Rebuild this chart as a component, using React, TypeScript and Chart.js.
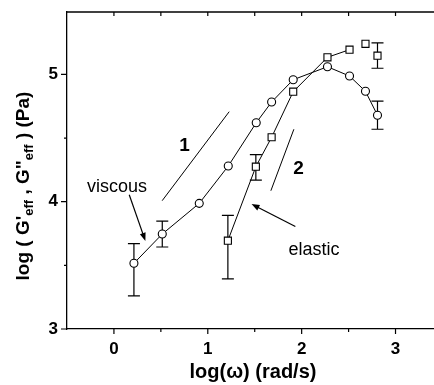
import React, { useEffect, useRef } from "react";
import { Chart, registerables } from "chart.js";
Chart.register(...registerables);

const FONT = "'Liberation Sans', Arial, sans-serif";

// Viscous (G''eff) – circles
const viscousX = [0.213, 0.515, 0.909, 1.218, 1.516, 1.68, 1.91, 2.275, 2.51, 2.68, 2.808];
const viscousY = [3.516, 3.746, 3.987, 4.28, 4.62, 4.783, 4.958, 5.06, 4.987, 4.867, 4.679];
const viscousErrLow = [3.26, 3.644, null, null, null, null, null, null, null, null, 4.569];
const viscousErrHigh = [3.67, 3.848, null, null, null, null, null, null, null, null, 4.79];

// Elastic (G'eff) – squares
const elasticX = [1.214, 1.512, 1.68, 1.91, 2.275, 2.51, 2.68, 2.808];
const elasticY = [3.694, 4.275, 4.506, 4.864, 5.134, 5.194, 5.24, 5.147];
const elasticErrLow = [3.393, 4.17, null, null, null, null, null, 5.048];
const elasticErrHigh = [3.893, 4.369, null, null, null, null, null, 5.247];
const elasticLastConnected = 5;

// Slope guide lines
const slope1X = [0.514, 1.228];
const slope1Y = [4.008, 4.707];
const slope2X = [1.672, 1.917];
const slope2Y = [4.086, 4.569];

// Ticks
const xTicks = [0, 1, 2, 3];
const xMinorTicks = [0.5, 1.5, 2.5];
const yTicks = [3, 4, 5];
const yMinorTicks = [3.5, 4.5];

// Annotations (data coordinates)
const labelTexts = ["1", "2", "viscous", "elastic"];
const labelX = [0.751, 1.967, 0.032, 2.132];
const labelY = [4.402, 4.219, 4.077, 3.582];
const labelBold = [true, true, false, false];
const arrowFromX = [0.163, 1.933];
const arrowFromY = [4.054, 3.805];
const arrowToX = [0.335, 1.466];
const arrowToY = [3.692, 3.981];

const toXY = (xs: number[], ys: number[]) => xs.map((x, i) => ({ x, y: ys[i] }));

const decorPlugin = {
  id: "decor",
  beforeDatasetsDraw(chart: any) {
    const ctx = chart.ctx;
    const xs = chart.scales.x;
    const ys = chart.scales.y;
    ctx.save();
    ctx.strokeStyle = "#000";
    ctx.lineWidth = 1.2;
    const bars = (X: number[], lo: (number | null)[], hi: (number | null)[]) => {
      X.forEach((x, i) => {
        const l = lo[i];
        const h = hi[i];
        if (l == null || h == null) return;
        const px = xs.getPixelForValue(x);
        const pl = ys.getPixelForValue(l);
        const ph = ys.getPixelForValue(h);
        ctx.beginPath();
        ctx.moveTo(px, pl);
        ctx.lineTo(px, ph);
        ctx.moveTo(px - 6, pl);
        ctx.lineTo(px + 6, pl);
        ctx.moveTo(px - 6, ph);
        ctx.lineTo(px + 6, ph);
        ctx.stroke();
      });
    };
    bars(viscousX, viscousErrLow, viscousErrHigh);
    bars(elasticX, elasticErrLow, elasticErrHigh);
    ctx.restore();
  },
  afterDraw(chart: any) {
    const ctx = chart.ctx;
    const xs = chart.scales.x;
    const ys = chart.scales.y;
    const { left, right, top, bottom } = chart.chartArea;
    ctx.save();
    ctx.strokeStyle = "#000";
    ctx.fillStyle = "#000";
    ctx.lineWidth = 1.3;
    // top border
    ctx.beginPath();
    ctx.moveTo(left, top);
    ctx.lineTo(right, top);
    ctx.stroke();
    // tick marks
    ctx.lineWidth = 1.2;
    ctx.beginPath();
    xTicks.forEach((v) => {
      const p = xs.getPixelForValue(v);
      ctx.moveTo(p, bottom);
      ctx.lineTo(p, bottom + 5);
      ctx.moveTo(p, top);
      ctx.lineTo(p, top + 4);
    });
    xMinorTicks.forEach((v) => {
      const p = xs.getPixelForValue(v);
      ctx.moveTo(p, bottom);
      ctx.lineTo(p, bottom + 3);
      ctx.moveTo(p, top);
      ctx.lineTo(p, top + 4);
    });
    yTicks.forEach((v) => {
      const p = ys.getPixelForValue(v);
      ctx.moveTo(left - 6, p);
      ctx.lineTo(left, p);
    });
    yMinorTicks.forEach((v) => {
      const p = ys.getPixelForValue(v);
      ctx.moveTo(left - 3, p);
      ctx.lineTo(left, p);
    });
    ctx.stroke();

    // arrows
    arrowFromX.forEach((fx, i) => {
      const x0 = xs.getPixelForValue(fx);
      const y0 = ys.getPixelForValue(arrowFromY[i]);
      const x1 = xs.getPixelForValue(arrowToX[i]);
      const y1 = ys.getPixelForValue(arrowToY[i]);
      const a = Math.atan2(y1 - y0, x1 - x0);
      const hl = 8;
      const hw = 3;
      ctx.lineWidth = 1.2;
      ctx.beginPath();
      ctx.moveTo(x0, y0);
      ctx.lineTo(x1 - Math.cos(a) * hl * 0.8, y1 - Math.sin(a) * hl * 0.8);
      ctx.stroke();
      ctx.beginPath();
      ctx.moveTo(x1, y1);
      ctx.lineTo(x1 - Math.cos(a) * hl - Math.sin(a) * hw, y1 - Math.sin(a) * hl + Math.cos(a) * hw);
      ctx.lineTo(x1 - Math.cos(a) * hl + Math.sin(a) * hw, y1 - Math.sin(a) * hl - Math.cos(a) * hw);
      ctx.closePath();
      ctx.fill();
    });

    // labels
    ctx.textAlign = "center";
    ctx.textBaseline = "alphabetic";
    labelTexts.forEach((t, i) => {
      ctx.font = (labelBold[i] ? "bold 19px " : "18px ") + FONT;
      ctx.fillText(t, xs.getPixelForValue(labelX[i]), ys.getPixelForValue(labelY[i]));
    });

    // x title
    ctx.font = "bold 20px " + FONT;
    ctx.fillText("log(\u03c9) (rad/s)", 253, 378);

    // y title with subscripts
    const main = "bold 19px " + FONT;
    const sub = "bold 13px " + FONT;
    const parts: [string, boolean][] = [
      ["log ( G'", false],
      ["eff", true],
      [" , G\"", false],
      ["eff", true],
      [" ) (Pa)", false],
    ];
    let total = 0;
    const widths = parts.map(([s, isSub]) => {
      ctx.font = isSub ? sub : main;
      const w = ctx.measureText(s).width;
      total += w;
      return w;
    });
    ctx.translate(29, 186);
    ctx.rotate(-Math.PI / 2);
    ctx.textAlign = "left";
    let cx = -total / 2;
    parts.forEach(([s, isSub], i) => {
      ctx.font = isSub ? sub : main;
      ctx.fillText(s, cx, isSub ? 4 : 0);
      cx += widths[i];
    });
    ctx.restore();
  },
};

export default function App() {
  const ref = useRef<HTMLCanvasElement | null>(null);
  useEffect(() => {
    if (!ref.current) return;
    const pointCommon = {
      borderColor: "#000",
      backgroundColor: "#fff",
      pointBackgroundColor: "#fff",
      pointBorderColor: "#000",
      pointBorderWidth: 1.1,
      borderWidth: 1,
      showLine: true,
    };
    const chart = new Chart(ref.current, {
      type: "scatter",
      data: {
        datasets: [
          {
            data: toXY(slope1X, slope1Y),
            showLine: true,
            borderColor: "#000",
            borderWidth: 1,
            pointRadius: 0,
          },
          {
            data: toXY(slope2X, slope2Y),
            showLine: true,
            borderColor: "#000",
            borderWidth: 1,
            pointRadius: 0,
          },
          {
            ...pointCommon,
            data: toXY(viscousX, viscousY),
            pointStyle: "circle",
            pointRadius: 4,
          },
          {
            ...pointCommon,
            data: toXY(elasticX, elasticY),
            pointStyle: "rect",
            pointRadius: 5,
            segment: {
              borderColor: (c: any) => (c.p0DataIndex >= elasticLastConnected ? "rgba(0,0,0,0)" : "#000"),
            },
          },
        ],
      },
      options: {
        animation: false,
        responsive: false,
        devicePixelRatio: 1,
        events: [],
        layout: { autoPadding: false, padding: { top: 12, left: 0, right: 0, bottom: 0 } },
        plugins: { legend: { display: false }, tooltip: { enabled: false } },
        scales: {
          x: {
            type: "linear",
            min: -0.5,
            max: 3.41,
            afterBuildTicks: (s: any) => {
              s.ticks = xTicks.map((v) => ({ value: v }));
            },
            afterFit: (s: any) => {
              s.height = 56;
              s.paddingLeft = 0;
              s.paddingRight = 0;
              s.paddingTop = 0;
              s.paddingBottom = 0;
            },
            ticks: {
              color: "#000",
              font: { family: FONT, size: 17, weight: "bold" },
              padding: 10,
              maxRotation: 0,
              autoSkip: false,
              callback: (v: any) => String(v),
            },
            grid: { display: false, drawTicks: false },
            border: { display: true, color: "#000", width: 1.3 },
          },
          y: {
            type: "linear",
            min: 3,
            max: 5.49,
            afterBuildTicks: (s: any) => {
              s.ticks = yTicks.map((v) => ({ value: v }));
            },
            afterFit: (s: any) => {
              s.width = 67;
              s.paddingLeft = 0;
              s.paddingRight = 0;
              s.paddingTop = 0;
              s.paddingBottom = 0;
            },
            ticks: {
              color: "#000",
              font: { family: FONT, size: 17, weight: "bold" },
              padding: 9,
              autoSkip: false,
              callback: (v: any) => String(v),
            },
            grid: { display: false, drawTicks: false },
            border: { display: true, color: "#000", width: 1.3 },
          },
        },
      },
      plugins: [decorPlugin],
    } as any);
    return () => chart.destroy();
  }, []);
  return (
    <div style={{ position: "absolute", left: 0, top: 0, width: 434, height: 385, background: "#fff" }}>
      <canvas ref={ref} width={434} height={385} />
    </div>
  );
}
